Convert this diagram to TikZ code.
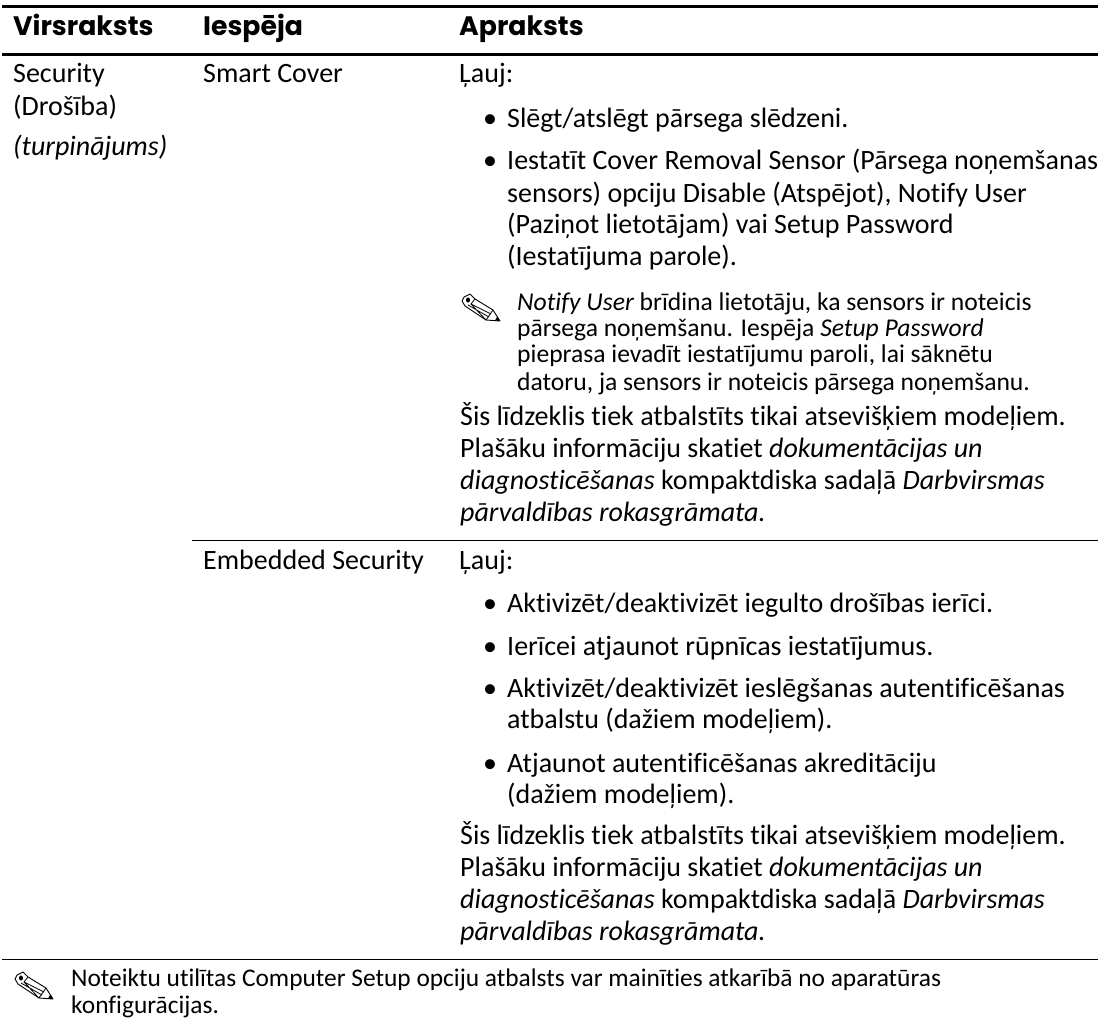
\documentclass[tikz,border=0pt]{standalone}
\usepackage{fontspec}
\setmainfont{Carlito}[Ligatures=NoCommon]
\newfontfamily\headfont{Poppins}[BoldFont={Poppins Bold}]
\newcounter{tn}
\newcommand{\txt}[4][nf]{\stepcounter{tn}\node[#1] (t\arabic{tn}) at (#2,#3) {#4};}
\tikzset{
 x=1pt,y=-1pt,
 nf/.style={anchor=base west,inner sep=0,font=\fontsize{28}{30}\selectfont},
 sf/.style={anchor=base west,inner sep=0,font=\fontsize{25.6}{26}\selectfont},
 bf/.style={anchor=base west,inner sep=0,font=\fontsize{25.4}{26}\selectfont},
 hf/.style={anchor=base west,inner sep=0,font=\headfont\bfseries\fontsize{26.7}{30}\selectfont},
 thick rule/.style={line width=3pt},
 thin rule/.style={line width=1pt},
 pencil/.pic={
  \draw[line width=0.9pt,line join=round] (2,3) -- (8,0) -- (13,5) -- (31,16) -- (38,27) -- (24,26) -- (3,12) -- (0,7) -- cycle;
  \draw[line width=0.8pt] (13,5) -- (9,10) -- (24,26) (6,11) -- (27,23) (9,10) -- (29,20) (31,16) -- (24,26);
  \fill (38,27) -- (33,26.6) -- (35.2,22.5) -- cycle;
  \fill (6,6) ellipse (2 and 2.6);
 }
}
\begin{document}
\begin{tikzpicture}
\useasboundingbox (0,0) rectangle (1098,1025);
\coordinate (a1) at (2,7); \coordinate (a2) at (1098,7);
\coordinate (b1) at (2,55); \coordinate (b2) at (1098,55);
\coordinate (c1) at (192,540); \coordinate (c2) at (1098,540);
\coordinate (d1) at (2,959); \coordinate (d2) at (1098,959);
\draw[thick rule] (a1) -- (a2);
\draw[thick rule] (b1) -- (b2);
\draw[thin rule] (c1) -- (c2);
\draw[thin rule] (d1) -- (d2);
\txt[hf]{13}{36}{Virsraksts}
\txt[hf]{203}{36}{Iespēja}
\txt[hf]{459}{36}{Apraksts}
\txt{13}{83}{Security}
\txt{13}{115}{(Drošība)}
\txt{13}{155}{\itshape (turpinājums)}
\txt{203}{83}{Smart Cover}
\txt{459}{83}{Ļauj:}
\txt{483}{127}{•}
\txt{507}{127}{Slēgt/atslēgt pārsega slēdzeni.}
\txt{483}{169}{•}
\txt{507}{169}{Iestatīt Cover Removal Sensor (Pārsega noņemšanas}
\txt{507}{202}{sensors) opciju Disable (Atspējot), Notify User}
\txt{507}{233}{(Paziņot lietotājam) vai Setup Password}
\txt{507}{265}{(Iestatījuma parole).}
\pic at (462,294) {pencil};
\txt[sf]{517}{310}{\itshape Notify User \upshape brīdina lietotāju, ka sensors ir noteicis}
\txt[sf]{517}{336}{pārsega noņemšanu. Iespēja \itshape Setup Password}
\txt[sf]{517}{362}{pieprasa ievadīt iestatījumu paroli, lai sāknētu}
\txt[sf]{517}{390}{datoru, ja sensors ir noteicis pārsega noņemšanu.}
\txt{460}{425}{Šis līdzeklis tiek atbalstīts tikai atsevišķiem modeļiem.}
\txt{460}{457}{Plašāku informāciju skatiet \itshape dokumentācijas un}
\txt{460}{489}{\itshape diagnosticēšanas \upshape kompaktdiska sadaļā \itshape Darbvirsmas}
\txt{460}{521}{\itshape pārvaldības rokasgrāmata.}
\txt{203}{569}{Embedded Security}
\txt{459}{569}{Ļauj:}
\txt{483}{612}{•}
\txt{507}{612}{Aktivizēt/deaktivizēt iegulto drošības ierīci.}
\txt{483}{655}{•}
\txt{507}{655}{Ierīcei atjaunot rūpnīcas iestatījumus.}
\txt{483}{697}{•}
\txt{507}{697}{Aktivizēt/deaktivizēt ieslēgšanas autentificēšanas}
\txt{507}{728}{atbalstu (dažiem modeļiem).}
\txt{483}{772}{•}
\txt{507}{772}{Atjaunot autentificēšanas akreditāciju}
\txt{507}{803}{(dažiem modeļiem).}
\txt{460}{844}{Šis līdzeklis tiek atbalstīts tikai atsevišķiem modeļiem.}
\txt{460}{876}{Plašāku informāciju skatiet \itshape dokumentācijas un}
\txt{460}{908}{\itshape diagnosticēšanas \upshape kompaktdiska sadaļā \itshape Darbvirsmas}
\txt{460}{940}{\itshape pārvaldības rokasgrāmata.}
\pic at (15,972) {pencil};
\txt[bf]{71}{986}{Noteiktu utilītas Computer Setup opciju atbalsts var mainīties atkarībā no aparatūras}
\txt[bf]{71}{1013}{konfigurācijas.}
\end{tikzpicture}
\end{document}
